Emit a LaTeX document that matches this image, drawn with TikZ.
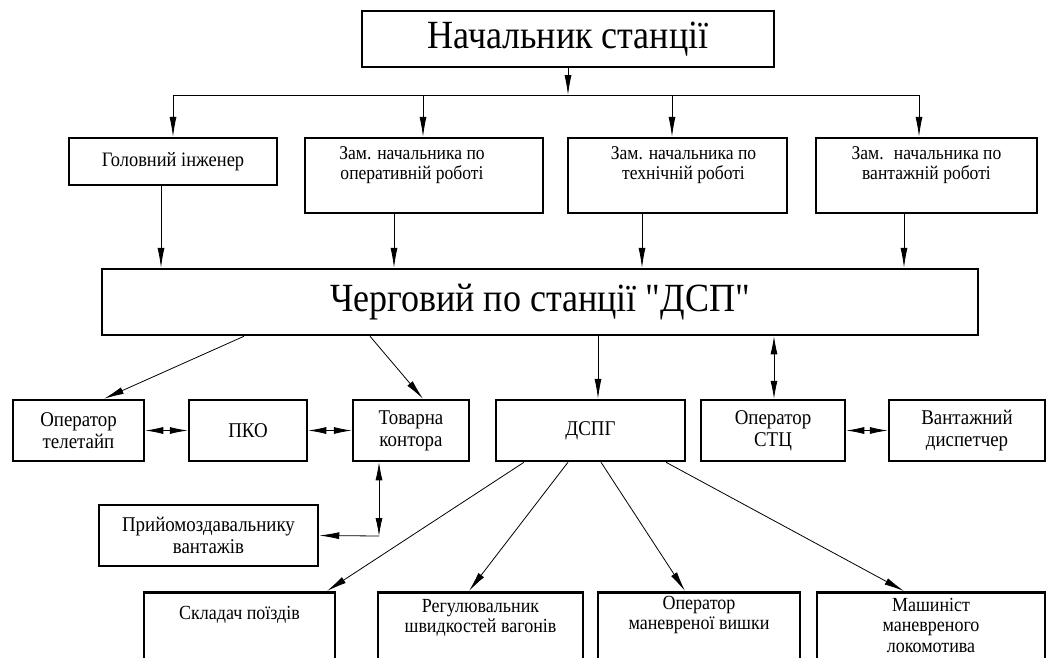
\documentclass[tikz,border=0pt]{standalone}
\usepackage{fontspec}
\setmainfont[FakeStretch=0.9, Ligatures=TeXOff]{Liberation Serif}
\usetikzlibrary{arrows.meta}
\tikzstyle{none}=[inner sep=0pt]
\tikzstyle{box}=[draw=black, line width=2.5pt, inner sep=0pt, align=center, font=\fontsize{21}{22}\selectfont]
\tikzstyle{bigbox}=[box, font=\fontsize{40}{42}\selectfont]
\tikzstyle{lbl}=[inner sep=0pt, align=center, anchor=north, font=\fontsize{20}{20.5}\selectfont]
\tikzstyle{zam}=[lbl, font=\fontsize{19.5}{20}\selectfont]
\tikzstyle{arrow}=[-{Latex[length=20pt,width=7pt]}, draw=black, line width=0.8pt]
\tikzstyle{both}=[{Latex[length=18pt,width=7pt]}-{Latex[length=18pt,width=7pt]}, draw=black, line width=0.8pt]
\tikzstyle{simple}=[-, draw=black, line width=0.8pt]

\begin{document}
\begin{tikzpicture}[x=1pt, y=-1pt]
  \useasboundingbox [fill=white] (0,0) rectangle (1050,657);
  \node [style=bigbox, minimum width=412, minimum height=56] (0) at (568, 39) {Начальник станції};
  \node [style=box, minimum width=208, minimum height=47, font=\fontsize{20.5}{21}\selectfont] (1) at (173, 161.5) {Головний інженер};
  \node [style=box, minimum width=238, minimum height=75, label={[style=zam, xshift=-12pt, yshift=-10pt]north:Зам. начальника по\\оперативній роботі}] (2) at (424, 175.5) {};
  \node [style=box, minimum width=219, minimum height=75, label={[style=zam, xshift=6pt, yshift=-10pt]north:Зам. начальника по\\технічній роботі}] (3) at (677.5, 175.5) {};
  \node [style=box, minimum width=221, minimum height=75, label={[style=zam, yshift=-10pt]north:Зам.~ начальника по\\вантажній роботі}] (4) at (926.5, 175.5) {};
  \node [style=bigbox, minimum width=876, minimum height=66] (5) at (540, 302) {Черговий по станції "ДСП"};
  \node [style=box, minimum width=131, minimum height=61] (6) at (78.5, 430.5) {Оператор\\телетайп};
  \node [style=box, minimum width=118, minimum height=61] (7) at (248, 430.5) {ПКО};
  \node [style=box, minimum width=116, minimum height=61] (8) at (411, 430.5) {Товарна\\контора};
  \node [style=box, minimum width=189, minimum height=61] (9) at (590.5, 430.5) {ДСПГ};
  \node [style=box, minimum width=144, minimum height=61] (10) at (773, 430.5) {Оператор\\СТЦ};
  \node [style=box, minimum width=156, minimum height=61] (11) at (967, 430.5) {Вантажний\\диспетчер};
  \node [style=box, minimum width=219, minimum height=61] (12) at (208.5, 535.5) {Прийомоздавальнику\\вантажів};
  \node [style=box, anchor=north, minimum width=191, minimum height=100, label={[style=lbl, yshift=-15pt]north:Складач поїздів}] (13) at (239.5, 591) {};
  \node [style=box, anchor=north, minimum width=205, minimum height=100, label={[style=lbl, yshift=-8pt]north:Регулювальник\\швидкостей вагонів}] (14) at (480.5, 591) {};
  \node [style=box, anchor=north, minimum width=202, minimum height=100, label={[style=lbl, yshift=-5pt]north:Оператор\\маневреної вишки}] (15) at (699, 591) {};
  \node [style=box, anchor=north, minimum width=228, minimum height=100, label={[style=lbl, yshift=-7pt]north:Машиніст\\маневреного\\локомотива}] (16) at (931, 591) {};
  \coordinate (b0) at (568, 95);
  \coordinate (b1) at (173, 95);
  \coordinate (b2) at (423, 95);
  \coordinate (b3) at (672, 95);
  \coordinate (b4) at (919, 95);
  \coordinate (c1) at (379, 536);
  \draw [style=arrow] (0.south) to (b0);
  \draw [style=simple] (b1) to (b4);
  \draw [style=arrow] (b1) to (1.north);
  \draw [style=arrow] (b2) to (b2 |- 2.north);
  \draw [style=arrow] (b3) to (b3 |- 3.north);
  \draw [style=arrow] (b4) to (b4 |- 4.north);
  \draw [style=arrow] ([xshift=-12pt]1.south) to ([xshift=-379pt]5.north);
  \draw [style=arrow] ([xshift=-30pt]2.south) to ([xshift=-146pt]5.north);
  \draw [style=arrow] ([xshift=-35.5pt]3.south) to ([xshift=102pt]5.north);
  \draw [style=arrow] ([xshift=-22.5pt]4.south) to ([xshift=364pt]5.north);
  \draw [style=arrow] ([xshift=-296pt]5.south) to ([xshift=25.5pt]6.north);
  \draw [style=arrow] ([xshift=-170pt]5.south) to ([xshift=12pt]8.north);
  \draw [style=arrow] ([xshift=58pt]5.south) to ([xshift=7.5pt]9.north);
  \draw [style=both] ([xshift=234pt]5.south) to ([xshift=1pt]10.north);
  \draw [style=both] (6) to (7);
  \draw [style=both] (7) to (8);
  \draw [style=both] (10) to (11);
  \draw [style=both] ([xshift=-32pt]8.south) to (c1);
  \draw [style=arrow] (c1) to (12.east);
  \draw [style=arrow] ([xshift=-66.5pt]9.south) to ([xshift=87.5pt]13.north);
  \draw [style=arrow] ([xshift=-22.5pt]9.south) to ([xshift=-11.5pt]14.north);
  \draw [style=arrow] ([xshift=10.5pt]9.south) to ([xshift=-14pt]15.north);
  \draw [style=arrow] ([xshift=75.5pt]9.south) to ([xshift=-27pt]16.north);
\end{tikzpicture}
\end{document}
